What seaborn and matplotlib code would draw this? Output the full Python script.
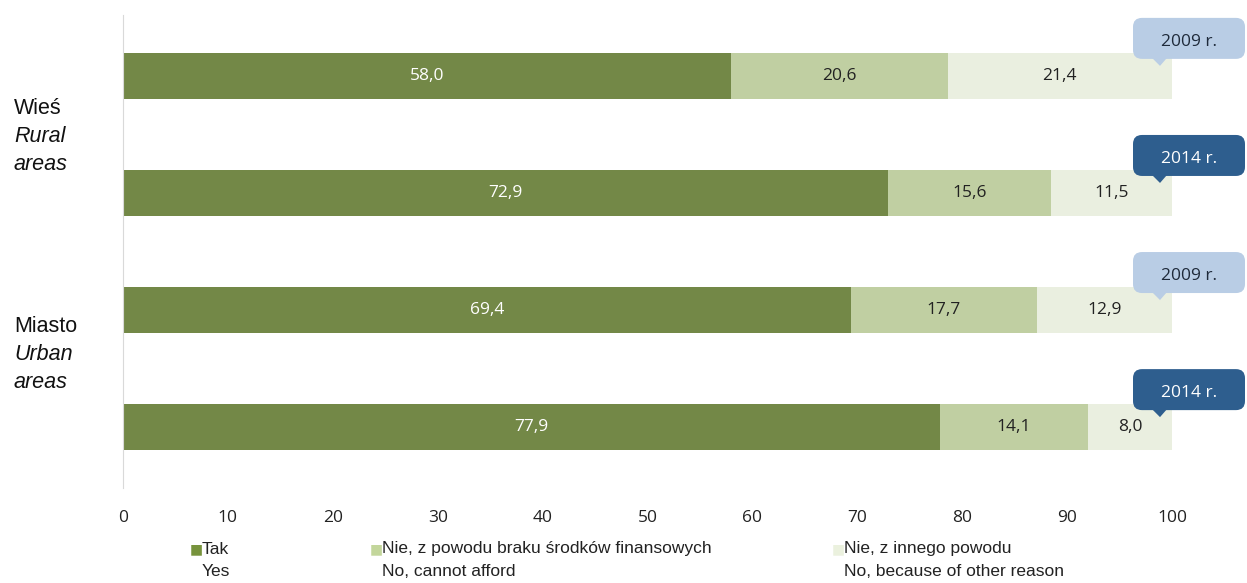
import pandas as pd
import seaborn as sns
import matplotlib.pyplot as plt
from matplotlib.patches import Polygon, FancyBboxPatch
from matplotlib.transforms import IdentityTransform

# Data (percent)
rows = ["Wieś 2009", "Wieś 2014", "Miasto 2009", "Miasto 2014"]
years = ["2009 r.", "2014 r.", "2009 r.", "2014 r."]
tak = [58.0, 72.9, 69.4, 77.9]
nie_finanse = [20.6, 15.6, 17.7, 14.1]
nie_inne = [21.4, 11.5, 12.9, 8.0]

df = pd.DataFrame({"row": rows, "Tak": tak, "Finanse": nie_finanse, "Inne": nie_inne})
df["cum2"] = df["Tak"] + df["Finanse"]
df["cum3"] = df["cum2"] + df["Inne"]

c_tak = "#77933C"
c_fin = "#C3D69B"
c_inn = "#EBF1DE"
c_2009 = "#B9CDE5"
c_2014 = "#2E5E8E"
narrow = ["Liberation Sans Narrow", "Liberation Sans", "DejaVu Sans"]

sns.set_style("white")
plt.rcParams["font.family"] = ["Open Sans", "DejaVu Sans"]

W, H = 1247, 583
fig = plt.figure(figsize=(W / 100, H / 100), dpi=100)
ax = fig.add_axes([123 / W, 1 - 488 / H, (1172 - 123) / W, (488 - 15) / H])

# stacked bars: draw cumulative totals back to front
for col, c in [("cum3", c_inn), ("cum2", c_fin), ("Tak", c_tak)]:
    sns.barplot(data=df, y="row", x=col, order=rows, color=c, width=0.39,
                linewidth=0, ax=ax, orient="h")

ax.set_xlim(0, 100)
ax.set_ylim(3.52, -0.52)
ax.set_xticks(range(0, 101, 10))
ax.set_yticks([])
ax.set_xlabel("")
ax.set_ylabel("")
ax.tick_params(axis="x", length=0, labelsize=12.5, colors="#222222", pad=16)
for s in ["top", "right", "bottom"]:
    ax.spines[s].set_visible(False)
ax.spines["left"].set_color("#D9D9D9")

def fmt(v):
    return f"{v:.1f}".replace(".", ",")

for i in range(len(rows)):
    ax.text(tak[i] / 2, i, fmt(tak[i]), ha="center", va="center", color="white", fontsize=12.5)
    ax.text(tak[i] + nie_finanse[i] / 2, i, fmt(nie_finanse[i]), ha="center", va="center",
            color="#222222", fontsize=12.5)
    ax.text(df["cum2"][i] + nie_inne[i] / 2, i, fmt(nie_inne[i]), ha="center", va="center",
            color="#222222", fontsize=12.5)

# year callout bubbles, anchored to the end of each bar (pixel offsets)
for i in range(len(rows)):
    is09 = years[i].startswith("2009")
    face = c_2009 if is09 else c_2014
    tcol = "#1F2A3A" if is09 else "white"
    px, py = ax.transData.transform((100, i))
    box = FancyBboxPatch((px - 39, py + 17), 112, 41,
                         boxstyle="round,pad=0,rounding_size=9",
                         fc=face, ec="none", transform=IdentityTransform(), zorder=4)
    fig.add_artist(box)
    tri = Polygon([(px - 20, py + 18), (px - 5, py + 18), (px - 12, py + 10)],
                  closed=True, fc=face, ec="none", transform=IdentityTransform(), zorder=4)
    fig.add_artist(tri)
    fig.text((px + 17) / W, (py + 34) / H, years[i], ha="center", va="center",
             color=tcol, fontsize=12.5, zorder=5)

# group labels on the left
trans = ax.get_yaxis_transform()
for y0, (pl, en1, en2) in [(0.52, ("Wieś", "Rural", "areas")), (2.38, ("Miasto", "Urban", "areas"))]:
    for k, (txt, st) in enumerate([(pl, "normal"), (en1, "italic"), (en2, "italic")]):
        ax.text(-0.104, y0 + (k - 1) * 0.238, txt, transform=trans, ha="left", va="center",
                fontsize=15.5, style=st, color="#111111", family=narrow)

# legend at the bottom
leg = [(190, c_tak, "Tak", "Yes"),
       (370, c_fin, "Nie, z powodu braku środków finansowych", "No, cannot afford"),
       (832, c_inn, "Nie, z innego powodu", "No, because of other reason")]
for x, col, pl, en in leg:
    fig.text(x / W, 1 - 549 / H, "■", color=col, fontsize=10, ha="left", va="center",
             family=["DejaVu Sans"])
    fig.text((x + 12) / W, 1 - 549 / H, pl, fontsize=12.5, ha="left", va="center",
             color="#222222", family=narrow)
    fig.text((x + 12) / W, 1 - 571 / H, en, fontsize=12.5, ha="left", va="center",
             color="#222222", family=narrow)

plt.savefig("out.png", dpi=100)
